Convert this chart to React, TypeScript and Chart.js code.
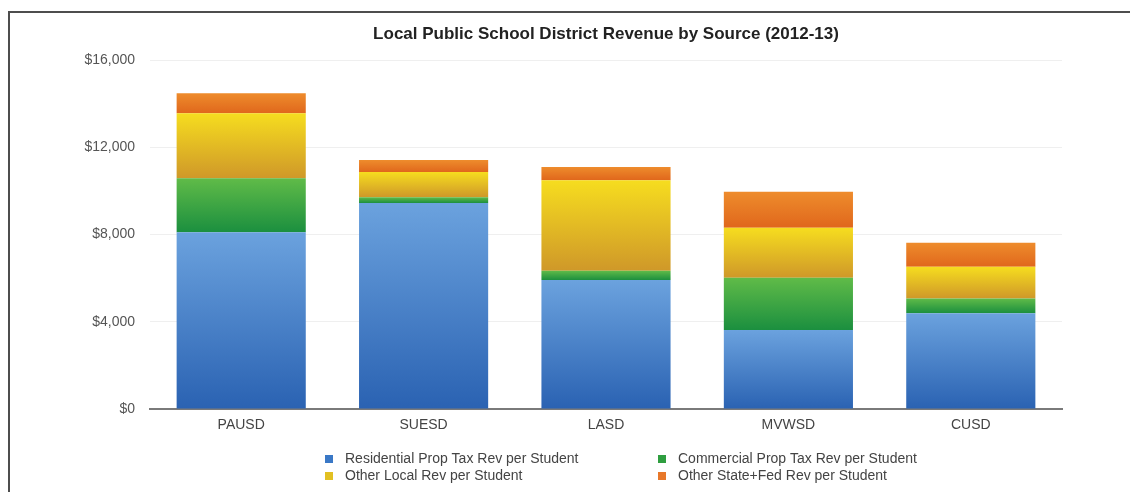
import React, { useEffect, useRef } from "react";
import { Chart, registerables } from "chart.js";

Chart.register(...registerables);

const TITLE = "Local Public School District Revenue by Source (2012-13)";
const categories = ["PAUSD", "SUESD", "LASD", "MVWSD", "CUSD"];
const seriesNames = [
  "Residential Prop Tax Rev per Student",
  "Commercial Prop Tax Rev per Student",
  "Other Local Rev per Student",
  "Other State+Fed Rev per Student",
];
const residential = [8100, 9440, 5910, 3620, 4390];
const commercial = [2480, 270, 430, 2400, 680];
const otherLocal = [2980, 1150, 4150, 2290, 1450];
const stateFed = [920, 550, 610, 1650, 1100];
const yTicks = [0, 4000, 8000, 12000, 16000];

const gradients: [string, string][] = [
  ["#6ba2de", "#2a62b2"],
  ["#60bb48", "#1b8f3f"],
  ["#f6dd1f", "#cf9829"],
  ["#ee8c2c", "#e0671c"],
];
const legendColors = ["#3a78c6", "#2f9e40", "#e2c022", "#e8782a"];

const allSeries = [residential, commercial, otherLocal, stateFed];
const FONT = "'Liberation Sans', Arial, Helvetica, sans-serif";

function makeBg(dsIndex: number) {
  return (ctx: any) => {
    const chart = ctx.chart;
    const [c0, c1] = gradients[dsIndex];
    if (ctx.type !== "data" || !chart.chartArea || !chart.scales.y) return c1;
    const i = ctx.dataIndex;
    let start = 0;
    for (let k = 0; k < dsIndex; k++) start += allSeries[k][i];
    const end = start + allSeries[dsIndex][i];
    const y0 = chart.scales.y.getPixelForValue(end);
    const y1 = chart.scales.y.getPixelForValue(start);
    if (!isFinite(y0) || !isFinite(y1) || y0 === y1) return c1;
    const g = chart.ctx.createLinearGradient(0, y0, 0, y1);
    g.addColorStop(0, c0);
    g.addColorStop(1, c1);
    return g;
  };
}

const overlayPlugin = {
  id: "overlay",
  afterDraw(chart: any) {
    const ctx = chart.ctx;
    const area = chart.chartArea;
    const cx = (area.left + area.right) / 2;
    ctx.save();
    // Title
    ctx.fillStyle = "#222";
    ctx.font = "bold 17px " + FONT;
    ctx.textAlign = "center";
    ctx.textBaseline = "middle";
    ctx.fillText(TITLE, cx, 21);
    // Legend (2 columns)
    const colX = [cx - 281, cx + 52];
    const rowY = [area.bottom + 50, area.bottom + 67];
    ctx.font = "14px " + FONT;
    ctx.textAlign = "left";
    seriesNames.forEach((name, idx) => {
      const col = idx % 2;
      const row = Math.floor(idx / 2);
      const x = colX[col];
      const y = rowY[row];
      ctx.fillStyle = legendColors[idx];
      ctx.fillRect(x, y - 4, 8, 8);
      ctx.fillStyle = "#444";
      ctx.fillText(name, x + 20, y);
    });
    ctx.restore();
  },
};

export default function App() {
  const ref = useRef<HTMLCanvasElement | null>(null);
  useEffect(() => {
    if (!ref.current) return;
    const chart = new Chart(ref.current, {
      type: "bar",
      data: {
        labels: categories,
        datasets: allSeries.map((vals, i) => ({
          label: seriesNames[i],
          data: vals,
          backgroundColor: makeBg(i),
          borderWidth: 0,
          categoryPercentage: 1,
          barPercentage: 0.708,
        })),
      },
      options: {
        responsive: false,
        animation: false,
        layout: { padding: { left: 0, right: 76, top: 47, bottom: 0 } },
        plugins: {
          legend: { display: false },
          title: { display: false },
          tooltip: { enabled: false },
        },
        scales: {
          x: {
            stacked: true,
            grid: { display: false, drawTicks: false },
            border: { display: true, color: "#7a7a7a", width: 2 },
            ticks: {
              color: "#444",
              padding: 8,
              font: { family: FONT, size: 14 },
            },
            afterFit: (s: any) => {
              s.height = 83;
            },
          },
          y: {
            stacked: true,
            min: 0,
            max: 16000,
            afterBuildTicks: (s: any) => {
              s.ticks = yTicks.map((v) => ({ value: v }));
            },
            grid: { color: "#efefef", lineWidth: 1, drawTicks: false },
            border: { display: false },
            ticks: {
              color: "#555",
              padding: 15,
              font: { family: FONT, size: 14 },
              callback: (v: any) => "$" + Number(v).toLocaleString("en-US"),
            },
            afterFit: (s: any) => {
              s.width = 140;
            },
          },
        },
      },
      plugins: [overlayPlugin],
    });
    return () => chart.destroy();
  }, []);
  return (
    <div
      style={{
        marginTop: 3,
        borderTop: "2px solid #4d4d4d",
        borderLeft: "2px solid #4d4d4d",
        width: 1128,
        height: 479,
        background: "#fff",
      }}
    >
      <canvas ref={ref} width={1128} height={479} style={{ display: "block" }} />
    </div>
  );
}
